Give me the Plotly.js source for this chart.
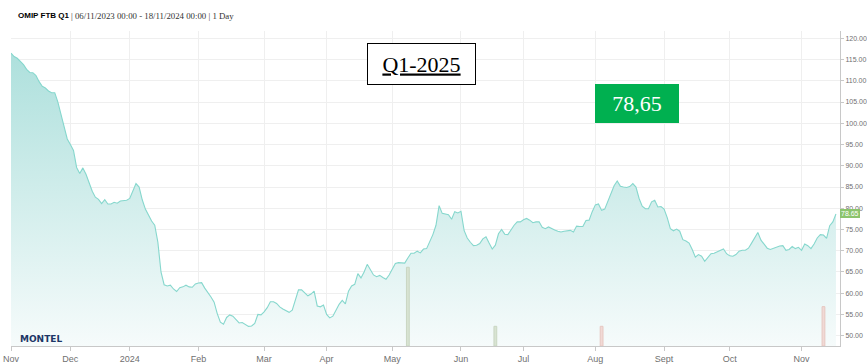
<!DOCTYPE html>
<html>
<head>
<meta charset="utf-8">
<script src="https://cdn.plot.ly/plotly-3.0.1.min.js"></script>
<style>
  html, body { margin: 0; padding: 0; background: #ffffff; }
  #chart { width: 867px; height: 364px; }
</style>
</head>
<body>
<div id="chart"></div>
<script>
// ---- Data ----
const START_DATE = '2023-11-06';
const END_DATE = '2024-11-18';
// Exchange holidays (no trading on these days)
const HOLIDAYS = ['2023-12-25', '2023-12-26', '2024-01-01', '2024-03-29', '2024-04-01', '2024-05-01'];

// Daily settlement prices (EUR/MWh), one per trading day
const PRICES = [
  116.5, 115.7, 115.3, 114.5, 113.8, 112.7, 111.95, 111.9, 111.2, 109.8,
  108.7, 108.3, 107.6, 107.2, 107.2, 105.0, 102.0, 99.2, 96.3, 95.0,
  93.6, 89.6, 88.2, 89.5, 88.0, 86.0, 84.0, 82.6, 82.1, 81.1,
  82.0, 81.0, 81.0, 81.4, 81.2, 81.7, 81.8, 81.9, 82.3, 84.2,
  85.8, 85.0, 82.0, 79.8, 78.2, 77.0, 76.0, 72.0, 65.0, 62.0,
  61.7, 61.9, 61.0, 60.4, 61.3, 61.5, 61.9, 61.5, 61.4, 62.2,
  62.4, 62.5, 61.2, 60.2, 59.1, 57.9, 55.2, 53.2, 52.7, 54.3,
  54.9, 54.6, 53.8, 53.0, 53.1, 52.6, 52.2, 52.3, 52.9, 55.0,
  54.9, 55.6, 56.6, 58.0, 58.0, 57.6, 56.8, 56.3, 55.9, 55.5,
  56.0, 58.5, 60.8, 60.8, 60.2, 59.4, 59.8, 60.5, 57.0, 56.8,
  57.2, 55.0, 54.2, 54.6, 56.0, 57.4, 58.3, 57.5, 60.5, 61.7,
  62.1, 64.6, 63.6, 65.0, 66.8, 65.6, 64.3, 63.9, 64.2, 63.7,
  63.3, 64.3, 65.6, 67.0, 67.2, 67.1, 67.1, 68.3, 69.4, 69.4,
  69.9, 69.5, 70.4, 70.5, 72.0, 73.8, 76.0, 80.6, 78.8, 78.6,
  78.5, 77.4, 79.2, 78.9, 79.3, 74.8, 73.0, 72.0, 71.2, 71.3,
  71.7, 72.8, 73.3, 71.8, 70.4, 71.3, 74.0, 75.0, 73.9, 73.8,
  75.0, 76.0, 76.8, 76.8, 77.3, 77.6, 77.2, 76.6, 76.8, 76.8,
  75.5, 75.2, 75.6, 75.2, 74.9, 74.6, 74.4, 74.6, 74.7, 74.8,
  74.4, 75.8, 75.7, 75.7, 77.1, 77.2, 79.2, 80.8, 81.0, 79.5,
  79.8, 81.5, 83.5, 85.3, 86.4, 85.2, 85.0, 84.9, 85.1, 85.8,
  85.0, 82.3, 80.5, 79.9, 79.9, 81.5, 81.9, 80.3, 80.4, 79.8,
  77.8, 75.2, 74.7, 75.1, 74.6, 72.6, 72.3, 71.8, 70.3, 68.5,
  69.1, 68.7, 67.5, 68.4, 69.3, 69.4, 69.8, 70.1, 70.4, 69.3,
  68.8, 68.7, 69.1, 69.9, 70.1, 70.1, 70.6, 71.8, 73.2, 74.3,
  72.5, 71.4, 70.6, 70.3, 70.6, 70.9, 71.1, 71.2, 70.1, 70.3,
  71.0, 70.5, 70.8, 70.1, 71.6, 71.2, 70.5, 71.6, 73.0, 73.8,
  73.7, 72.9, 75.9, 76.8, 78.65
];

// Traded volume (relative units) on the days with trades
const VOLUME_DATES = ['2024-05-09', '2024-06-18', '2024-08-05', '2024-11-12'];
const VOLUMES = [4, 1, 1, 2];
const VOLUME_UP = [true, true, false, false];

// Axis ticks
const TICK_DATES = ['2023-11-06', '2023-12-01', '2024-01-02', '2024-02-01', '2024-03-01', '2024-04-02',
                    '2024-05-02', '2024-06-03', '2024-07-01', '2024-08-01', '2024-09-02', '2024-10-01', '2024-11-01'];
const TICK_LABELS = ['Nov', 'Dec', '2024', 'Feb', 'Mar', 'Apr', 'May', 'Jun', 'Jul', 'Aug', 'Sept', 'Oct', 'Nov'];

const TITLE_NAME = 'OMIP FTB Q1';
const TITLE_INFO = '| 06/11/2023 00:00 - 18/11/2024 00:00 | 1 Day';
const CONTRACT = 'Q1-2025';
const LAST_PRICE_TEXT = '78,65';

// ---- Trading calendar (weekdays that are not holidays) ----
function tradingDays(start, end, holidays) {
  const out = [];
  const d = new Date(start + 'T00:00:00Z');
  const e = new Date(end + 'T00:00:00Z');
  while (d <= e) {
    const wd = d.getUTCDay();
    const s = d.toISOString().slice(0, 10);
    if (wd !== 0 && wd !== 6 && holidays.indexOf(s) < 0) out.push(s);
    d.setUTCDate(d.getUTCDate() + 1);
  }
  return out;
}
const DATES = tradingDays(START_DATE, END_DATE, HOLIDAYS);
const lastPrice = PRICES[PRICES.length - 1];

const Y_MIN = 47.58, Y_MAX = 121.72;

const priceTrace = {
  type: 'scatter',
  mode: 'lines',
  x: DATES,
  y: PRICES,
  line: { color: '#86d7cd', width: 1.1 },
  fill: 'tozeroy',
  fillgradient: {
    type: 'vertical',
    start: Y_MIN,
    stop: Y_MAX,
    colorscale: [[0, 'rgb(246,251,251)'], [1, 'rgb(168,222,218)']]
  },
  hoverinfo: 'skip',
  showlegend: false
};

const volumeTrace = {
  type: 'bar',
  x: VOLUME_DATES,
  y: VOLUMES,
  yaxis: 'y2',
  width: 86400000 * 0.9,
  marker: {
    color: VOLUME_UP.map(u => u ? '#d8e3d2' : '#f1d9d5'),
    line: { color: VOLUME_UP.map(u => u ? '#c9d6c2' : '#e6c7c1'), width: 1 }
  },
  hoverinfo: 'skip',
  showlegend: false
};

const axisGray = '#c8c8c8';
const tickFontFamily = '"Liberation Sans Narrow", "Liberation Sans", Arial, sans-serif';

const layout = {
  width: 867,
  height: 364,
  margin: { l: 11, r: 27, t: 31, b: 18, pad: 0 },
  paper_bgcolor: '#ffffff',
  plot_bgcolor: '#ffffff',
  showlegend: false,
  xaxis: {
    type: 'date',
    range: ['2023-11-06', '2024-11-19 07:00'],
    rangebreaks: [
      { bounds: ['sat', 'mon'] },
      { values: HOLIDAYS }
    ],
    tickmode: 'array',
    tickvals: TICK_DATES,
    ticktext: TICK_LABELS,
    showgrid: true,
    gridcolor: '#efefef',
    gridwidth: 1,
    showline: true,
    linecolor: axisGray,
    linewidth: 1,
    ticks: 'outside',
    ticklen: 4,
    tickcolor: axisGray,
    tickfont: { family: tickFontFamily, size: 9, color: '#707070' },
    zeroline: false,
    fixedrange: true
  },
  yaxis: {
    side: 'right',
    range: [Y_MIN, Y_MAX],
    tick0: 0,
    dtick: 5,
    tickformat: '.2f',
    showgrid: true,
    gridcolor: '#efefef',
    gridwidth: 1,
    showline: true,
    linecolor: axisGray,
    linewidth: 1,
    ticks: 'outside',
    ticklen: 3,
    tickcolor: axisGray,
    tickfont: { family: tickFontFamily, size: 7, color: '#707070' },
    zeroline: false,
    fixedrange: true
  },
  yaxis2: {
    overlaying: 'y',
    range: [0, 16],
    visible: false,
    fixedrange: true
  },
  annotations: [
    {
      xref: 'paper', yref: 'paper', x: 0.006, y: 1.0486,
      xanchor: 'left', yanchor: 'middle', showarrow: false,
      text: '<b>' + TITLE_NAME + '</b>',
      font: { family: '"Liberation Sans", Arial, sans-serif', size: 8, color: '#000000' }
    },
    {
      xref: 'paper', yref: 'paper', x: 0.0705, y: 1.0486,
      xanchor: 'left', yanchor: 'middle', showarrow: false,
      text: TITLE_INFO,
      font: { family: '"Liberation Serif", "DejaVu Serif", serif', size: 8.8, color: '#333333' }
    },
    {
      xref: 'paper', yref: 'paper', x: 0.4946, y: 0.8968,
      xanchor: 'center', yanchor: 'middle', showarrow: false,
      text: '<u>' + CONTRACT + '</u>',
      width: 107, height: 40,
      bgcolor: '#ffffff', bordercolor: '#000000', borderwidth: 1, borderpad: 0,
      font: { family: '"Liberation Serif", "DejaVu Serif", serif', size: 22, color: '#000000' }
    },
    {
      xref: 'paper', yref: 'paper', x: 0.7551, y: 0.7714,
      xanchor: 'center', yanchor: 'middle', showarrow: false,
      text: LAST_PRICE_TEXT,
      width: 84, height: 39,
      bgcolor: '#00b050', borderwidth: 0, borderpad: 0,
      font: { family: '"Liberation Serif", "DejaVu Serif", serif', size: 22, color: '#ffffff' }
    },
    {
      xref: 'paper', yref: 'y', x: 1, y: lastPrice,
      xanchor: 'left', yanchor: 'middle', showarrow: false, xshift: 0,
      text: lastPrice.toFixed(2),
      bgcolor: '#8cc46d', borderpad: 1, borderwidth: 0,
      font: { family: tickFontFamily, size: 7, color: '#ffffff' }
    },
    {
      xref: 'paper', yref: 'paper', x: 0.0085, y: 0.022,
      xanchor: 'left', yanchor: 'middle', showarrow: false,
      text: '<b>MONTEL</b>',
      font: { family: '"DejaVu Sans", sans-serif', size: 9, color: '#1c3666' }
    }
  ]
};

Plotly.newPlot('chart', [priceTrace, volumeTrace], layout, { staticPlot: true, displayModeBar: false });
</script>
</body>
</html>
